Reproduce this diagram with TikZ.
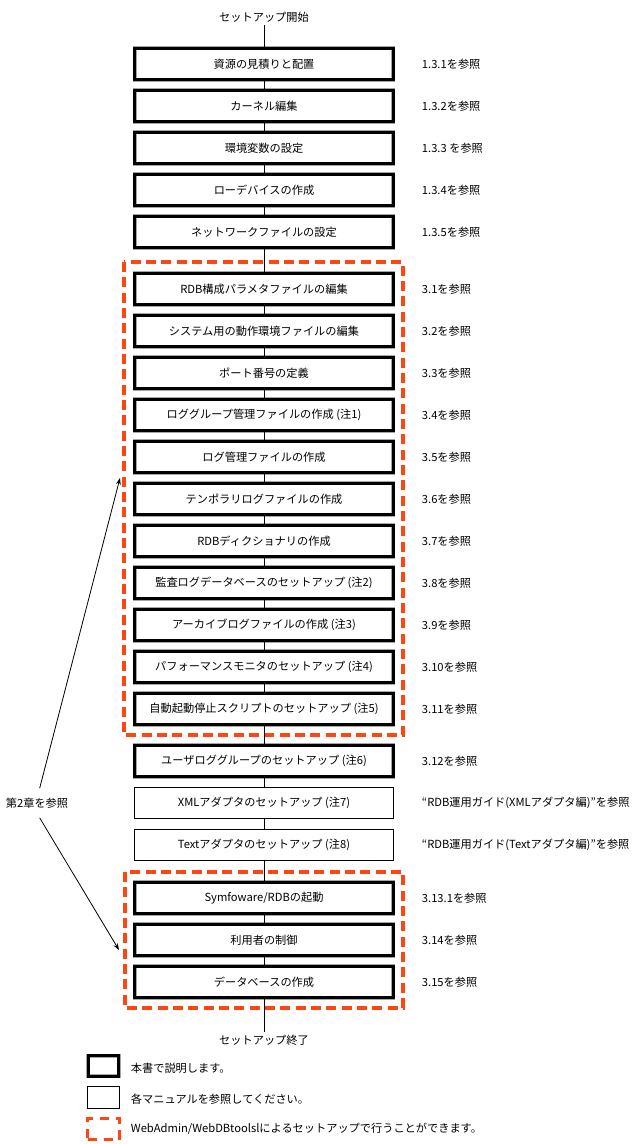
\documentclass[tikz,border=0pt]{standalone}
\usepackage{fontspec}
\setmainfont{Noto Sans CJK JP}
\usetikzlibrary{arrows.meta}
\definecolor{dashred}{RGB}{255,69,20}
\tikzset{
  every node/.style={font=\fontsize{8.4}{10}\selectfont, inner sep=2pt},
  mainbox/.style={draw=black, line width=2.1pt, minimum width=194pt, minimum height=23.5pt, inner sep=0pt,
     preaction={draw=black!35, line width=3pt}},
  thinbox/.style={draw=black, line width=0.8pt, minimum width=194pt, minimum height=23.5pt, inner sep=0pt},
  webgroup/.style={draw=dashred, line width=2.3pt, dash pattern=on 7.5pt off 4pt},
  reflabel/.style={anchor=west},
  flow/.style={draw=black, line width=0.75pt},
  refarrow/.style={draw=black, line width=0.6pt, -{Stealth[length=5pt,width=3.6pt]}}
}
\begin{document}
\begin{tikzpicture}[x=0.75pt,y=-0.75pt]
\useasboundingbox (0,0) rectangle (634,1144);
% dashed groups
\draw[webgroup] (124,262) rectangle (403,735);
\draw[webgroup] (125,872) rectangle (403,1008);
% start / end
\node (start) at (264,17) {セットアップ開始};
\node (end) at (264,1040) {セットアップ終了};
% boxes
\node[mainbox] (b1) at (264,64) {資源の見積りと配置};
\node[mainbox] (b2) at (264,106) {カーネル編集};
\node[mainbox] (b3) at (264,148) {環境変数の設定};
\node[mainbox] (b4) at (264,190) {ローデバイスの作成};
\node[mainbox] (b5) at (264,232) {ネットワークファイルの設定};
\node[mainbox] (b6) at (264,289) {RDB構成パラメタファイルの編集};
\node[mainbox] (b7) at (264,331) {システム用の動作環境ファイルの編集};
\node[mainbox] (b8) at (264,373) {ポート番号の定義};
\node[mainbox] (b9) at (264,415) {ロググループ管理ファイルの作成 (注1)};
\node[mainbox] (b10) at (264,457) {ログ管理ファイルの作成};
\node[mainbox] (b11) at (264,499) {テンポラリログファイルの作成};
\node[mainbox] (b12) at (264,541) {RDBディクショナリの作成};
\node[mainbox] (b13) at (264,583) {監査ログデータベースのセットアップ (注2)};
\node[mainbox] (b14) at (264,625) {アーカイブログファイルの作成 (注3)};
\node[mainbox] (b15) at (264,667) {パフォーマンスモニタのセットアップ (注4)};
\node[mainbox] (b16) at (264,709) {自動起動停止スクリプトのセットアップ (注5)};
\node[mainbox] (b17) at (264,761) {ユーザロググループのセットアップ (注6)};
\node[thinbox] (b18) at (264,803) {XMLアダプタのセットアップ (注7)};
\node[thinbox] (b19) at (264,845) {Textアダプタのセットアップ (注8)};
\node[mainbox] (b20) at (264,898) {Symfoware/RDBの起動};
\node[mainbox] (b21) at (264,940) {利用者の制御};
\node[mainbox] (b22) at (264,982) {データベースの作成};
% flow lines
\draw[flow] (start) -- (b1);
\foreach \a/\b in {b1/b2,b2/b3,b3/b4,b4/b5,b5/b6,b6/b7,b7/b8,b8/b9,b9/b10,b10/b11,b11/b12,b12/b13,b13/b14,b14/b15,b15/b16,b16/b17,b17/b18,b18/b19,b19/b20,b20/b21,b21/b22}
  \draw[flow] (\a) -- (\b);
\draw[flow] (b22) -- (end);
% reference labels
\node[reflabel] (r1) at (419,64) {1.3.1を参照};
\node[reflabel] (r2) at (419,106) {1.3.2を参照};
\node[reflabel] (r3) at (419,148) {1.3.3 を参照};
\node[reflabel] (r4) at (419,190) {1.3.4を参照};
\node[reflabel] (r5) at (419,232) {1.3.5を参照};
\node[reflabel] (r6) at (419,289) {3.1を参照};
\node[reflabel] (r7) at (419,331) {3.2を参照};
\node[reflabel] (r8) at (419,373) {3.3を参照};
\node[reflabel] (r9) at (419,415) {3.4を参照};
\node[reflabel] (r10) at (419,457) {3.5を参照};
\node[reflabel] (r11) at (419,499) {3.6を参照};
\node[reflabel] (r12) at (419,541) {3.7を参照};
\node[reflabel] (r13) at (419,583) {3.8を参照};
\node[reflabel] (r14) at (419,625) {3.9を参照};
\node[reflabel] (r15) at (419,667) {3.10を参照};
\node[reflabel] (r16) at (419,709) {3.11を参照};
\node[reflabel] (r17) at (419,761) {3.12を参照};
\node[reflabel] (r18) at (419,803) {“RDB運用ガイド(XMLアダプタ編)”を参照};
\node[reflabel] (r19) at (419,845) {“RDB運用ガイド(Textアダプタ編)”を参照};
\node[reflabel] (r20) at (419,898) {3.13.1を参照};
\node[reflabel] (r21) at (419,940) {3.14を参照};
\node[reflabel] (r22) at (419,982) {3.15を参照};
% chapter 2 reference
\node[inner xsep=1pt, inner ysep=7pt] (ch2) at (37,803) {第2章を参照};
\coordinate (t1) at (120,478);
\coordinate (t2) at (119,950);
\draw[refarrow] ([xshift=2pt]ch2.north) -- (t1);
\draw[refarrow] ([xshift=2pt]ch2.south) -- (t2);
% legend
\node[draw=black, line width=2.1pt, preaction={draw=black!35, line width=3pt}, minimum width=23pt, minimum height=15.5pt, inner sep=0pt] (lg1) at (103.5,1066) {};
\node[draw=black, line width=0.8pt, minimum width=24pt, minimum height=16pt, inner sep=0pt] (lg2) at (103.5,1097.5) {};
\node[webgroup, minimum width=24pt, minimum height=16pt, inner sep=0pt, dash pattern=on 7pt off 5pt] (lg3) at (103.5,1129) {};
\node[anchor=west] (lt1) at (128,1068) {本書で説明します。};
\node[anchor=west] (lt2) at (128,1099) {各マニュアルを参照してください。};
\node[anchor=west] (lt3) at (128,1129) {WebAdmin/WebDBtoolslによるセットアップで行うことができます。};
\end{tikzpicture}
\end{document}
